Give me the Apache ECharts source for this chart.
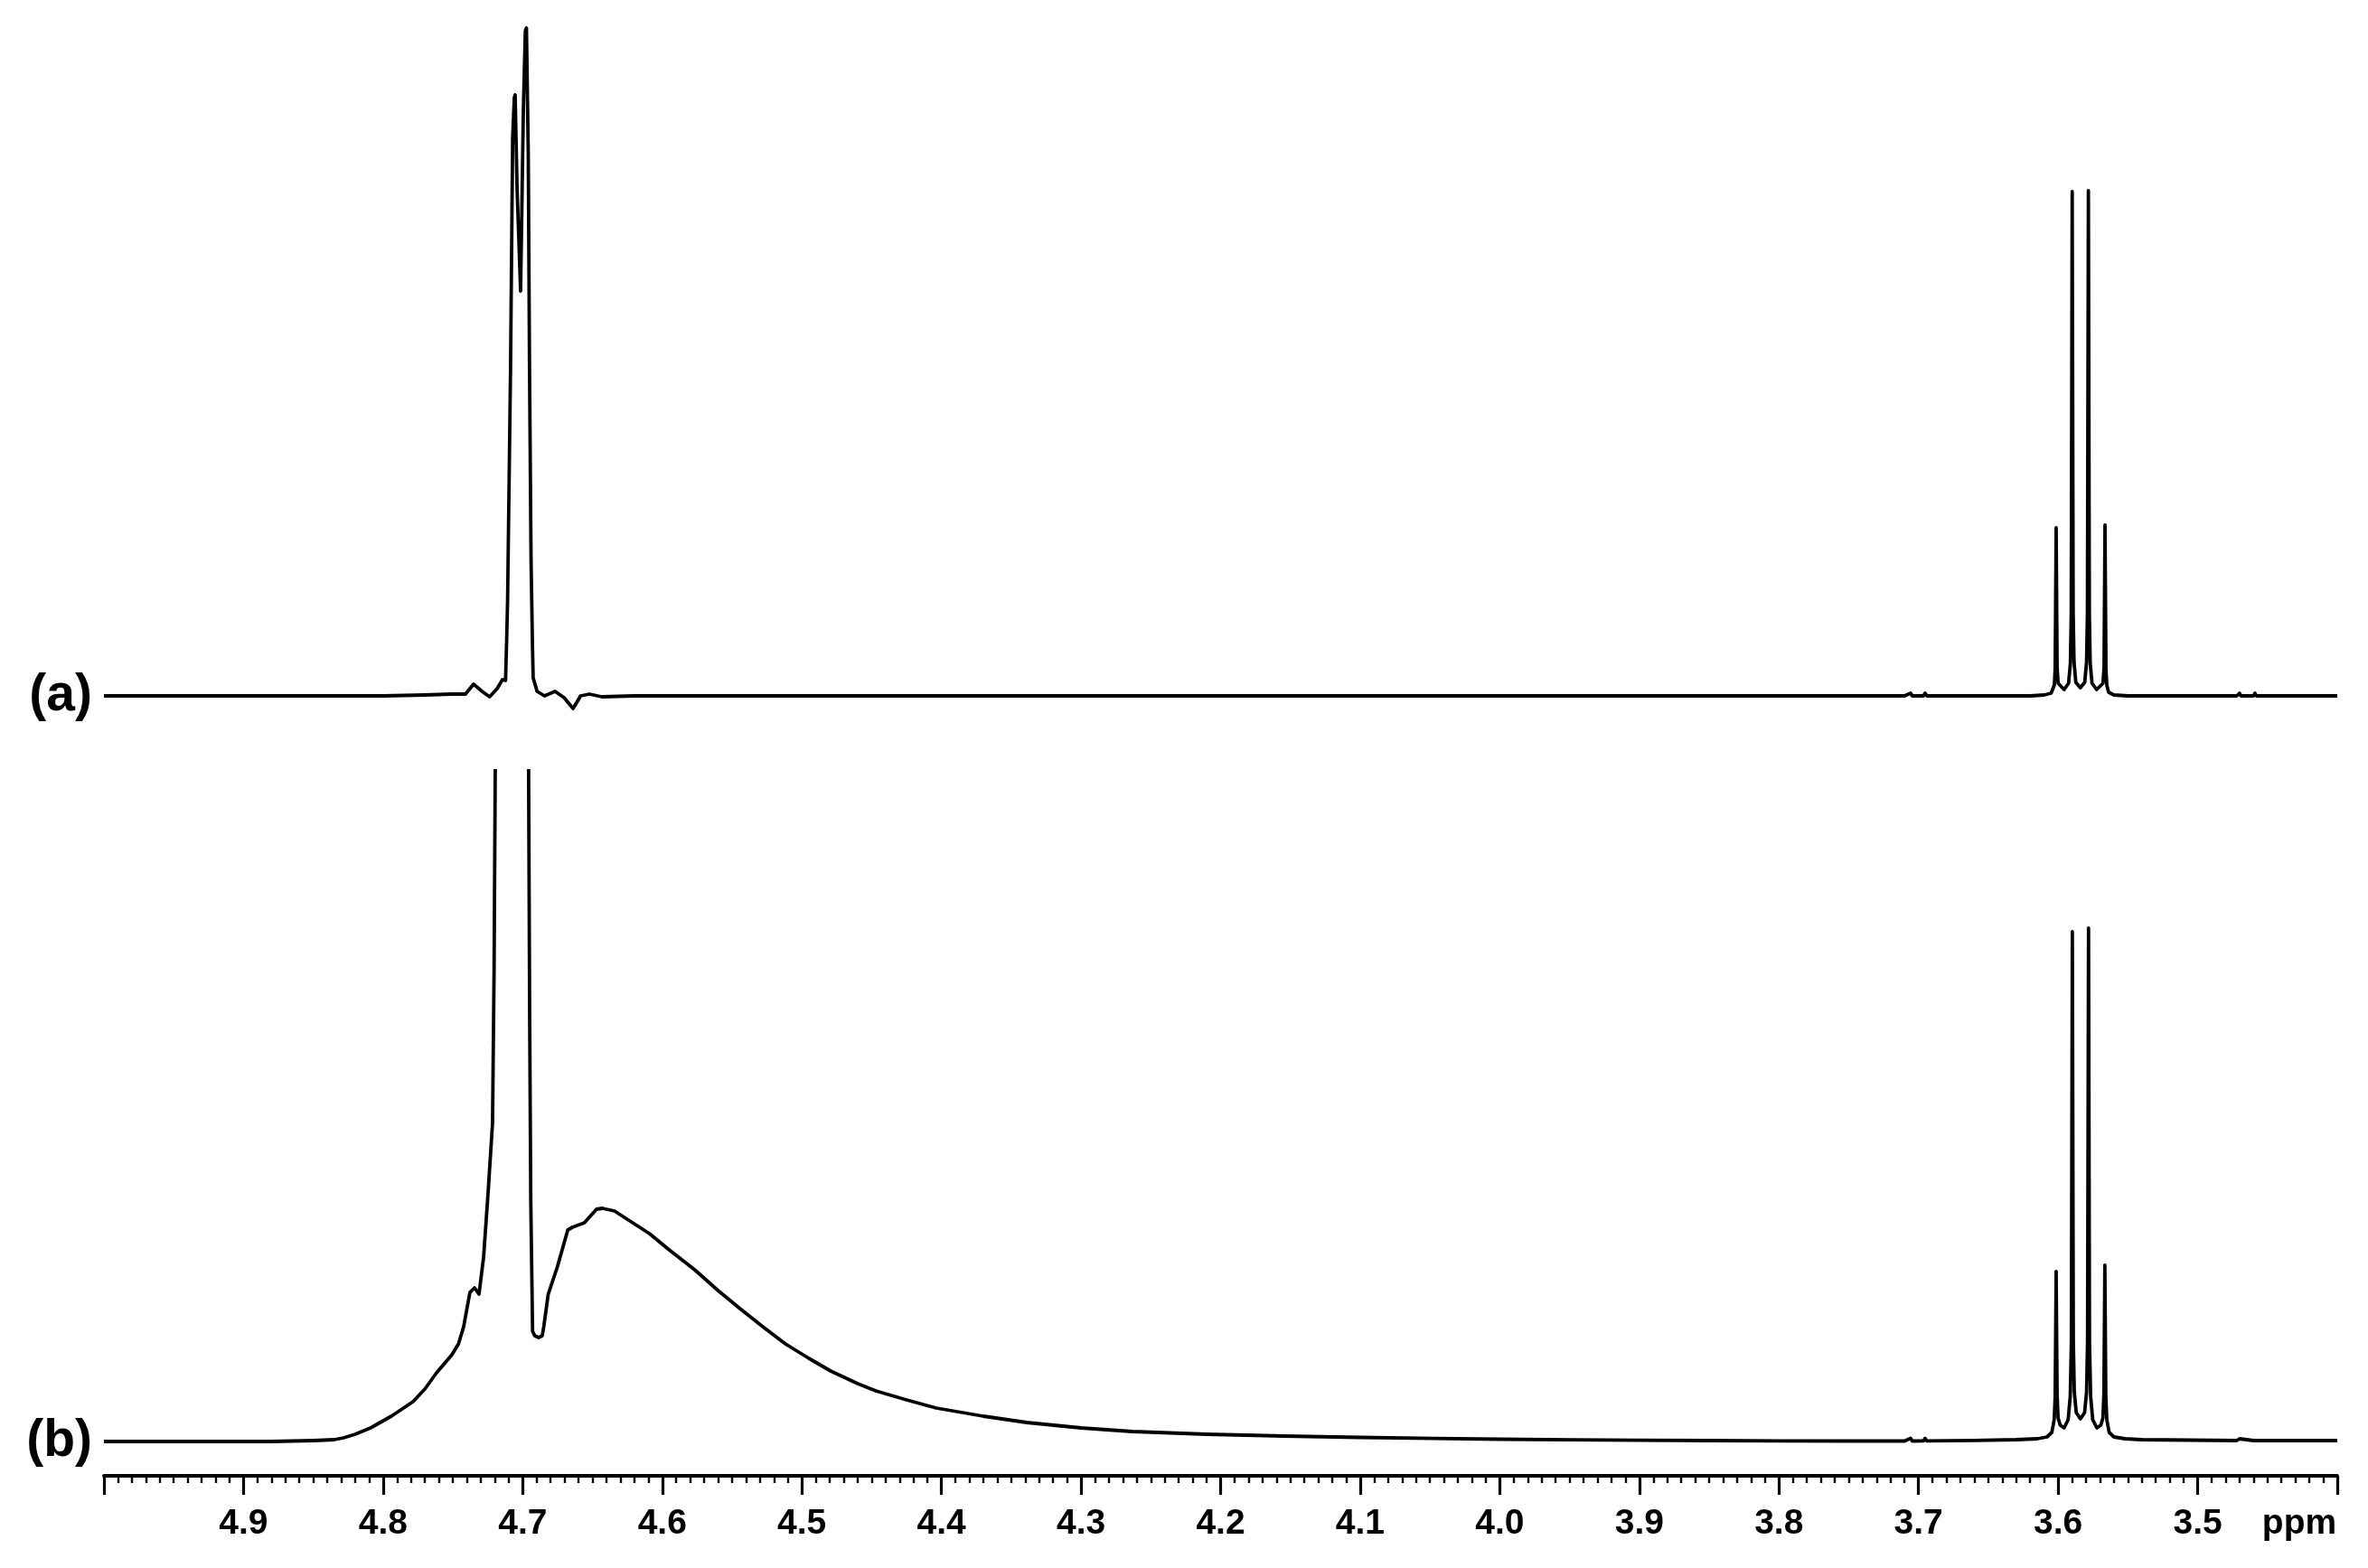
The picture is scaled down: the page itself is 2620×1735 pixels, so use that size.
<!DOCTYPE html>
<html>
<head>
<meta charset="utf-8">
<script src="https://cdn.jsdelivr.net/npm/echarts@6/dist/echarts.min.js"></script>
<style>
  html, body { margin: 0; padding: 0; background: #fff; }
  #chart { width: 2620px; height: 1735px; }
</style>
</head>
<body>
<div id="chart"></div>
<script>
// ---------- data (chemical shift in ppm, intensity in arbitrary units) ----------
const panelLabels = ['(a)', '(b)'];
const axisUnit = 'ppm';
const tickLabels = ['4.9', '4.8', '4.7', '4.6', '4.5', '4.4', '4.3', '4.2', '4.1', '4.0', '3.9', '3.8', '3.7', '3.6', '3.5'];

// spectrum (a)
const specA = [
  [5.000, 0], [4.900, 0], [4.800, 0], [4.770, 1], [4.7507, 2], [4.7410, 2],
  [4.7352, 13], [4.7291, 5], [4.7237, -1], [4.7183, 8], [4.7145, 18], [4.7123, 17],
  [4.7115, 60], [4.7108, 107], [4.7087, 362], [4.7072, 617], [4.7060, 662], [4.7054, 665],
  [4.7040, 560], [4.7015, 448], [4.6995, 650], [4.6981, 736], [4.6973, 739], [4.6960, 600],
  [4.6951, 362], [4.6940, 150], [4.6930, 56], [4.6925, 20], [4.6897, 5],
  [4.6844, 0], [4.6768, 5], [4.6703, -2], [4.6639, -14], [4.6585, 0],
  [4.6522, 2], [4.6433, -1], [4.6200, 0], [4.5000, 0], [4.3000, 0], [4.1000, 0],
  [3.9000, 0], [3.7100, 0], [3.7057, 3], [3.7045, 0], [3.6965, 0], [3.6953, 3],
  [3.6940, 0], [3.6200, 0], [3.6100, 1], [3.6050, 3],
  [3.6040, 4], [3.6027, 12], [3.6021, 30], [3.6014, 186], [3.6007, 32], [3.6000, 14],
  [3.5957, 7],
  [3.5925, 14], [3.5912, 36], [3.5906, 90], [3.5899, 558], [3.5892, 92], [3.5886, 38], [3.5873, 15],
  [3.5841, 9],
  [3.5809, 15], [3.5796, 38], [3.5790, 92], [3.5783, 559], [3.5776, 90], [3.5770, 36], [3.5757, 14],
  [3.5724, 7],
  [3.5678, 14], [3.5671, 32], [3.5664, 189], [3.5657, 30], [3.5651, 12], [3.5638, 4],
  [3.5600, 1], [3.5500, 0], [3.4720, 0], [3.4700, 3], [3.4690, 0], [3.4600, 0],
  [3.4590, 3], [3.4580, 0], [3.4530, 0], [3.4520, 2], [3.4510, 0], [3.4000, 0]
];

// spectrum (b)
const specB = [
  [5.000, 0], [4.950, 0], [4.900, 0], [4.880, 0], [4.850, 1], [4.835, 2],
  [4.8284, 4], [4.8200, 8], [4.8090, 15], [4.7941, 28], [4.7786, 44], [4.7701, 58],
  [4.7617, 76], [4.7507, 96], [4.7460, 108], [4.7423, 127], [4.7378, 165],
  [4.7345, 170], [4.7313, 163], [4.7280, 204], [4.7248, 275], [4.7216, 352],
  [4.7205, 520], [4.7196, 760], [4.7170, 1400], [4.7120, 2500], [4.7080, 2800],
  [4.7020, 2600], [4.6980, 1600], [4.6962, 900], [4.6950, 469], [4.6942, 265],
  [4.6929, 122], [4.6914, 117], [4.6886, 115], [4.6860, 117], [4.6849, 127],
  [4.6817, 163], [4.6752, 193], [4.6677, 234], [4.6644, 237], [4.6558, 242],
  [4.6471, 257], [4.6428, 258], [4.6342, 255], [4.6212, 242], [4.6092, 230],
  [4.5950, 212], [4.5768, 190], [4.5600, 167], [4.5443, 147], [4.5280, 127],
  [4.5118, 108], [4.4950, 92], [4.4794, 78], [4.4600, 64], [4.4470, 56],
  [4.4250, 46], [4.4037, 37], [4.3700, 28], [4.3389, 21], [4.3000, 15],
  [4.2632, 11], [4.2100, 8], [4.1550, 6], [4.1000, 4.5], [4.0469, 3.3], [4.0000, 2.5],
  [3.9500, 1.8], [3.9000, 1.3], [3.8500, 1], [3.8000, 0.7], [3.7500, 0.5],
  [3.7100, 0.5], [3.7057, 3.5], [3.7045, 0.5], [3.6965, 0.6], [3.6953, 3.5],
  [3.6940, 0.7], [3.6600, 1.2], [3.6300, 2], [3.6150, 3], [3.6080, 5],
  [3.6045, 10], [3.6028, 24], [3.6021, 50], [3.6014, 188], [3.6007, 52], [3.6000, 26], [3.5985, 18],
  [3.5957, 15],
  [3.5928, 24], [3.5913, 50], [3.5905, 110], [3.5898, 564], [3.5891, 112], [3.5884, 55], [3.5870, 32],
  [3.5840, 25],
  [3.5810, 32], [3.5796, 55], [3.5789, 112], [3.5782, 568], [3.5775, 110], [3.5767, 50], [3.5752, 24],
  [3.5722, 15],
  [3.5694, 18], [3.5679, 26], [3.5672, 52], [3.5665, 195], [3.5658, 50], [3.5651, 24], [3.5634, 10],
  [3.5600, 5], [3.5520, 3], [3.5400, 2], [3.4720, 1], [3.4700, 3], [3.4690, 1],
  [3.4600, 1], [3.4590, 3], [3.4580, 1], [3.4530, 1], [3.4520, 2], [3.4510, 1], [3.4000, 1]
];

// ---------- chart ----------
const FONT = '"Liberation Sans", Arial, Helvetica, sans-serif';
const chart = echarts.init(document.getElementById('chart'), null, { renderer: 'canvas' });

const lineStyle = { color: '#000', width: 3.8, join: 'round' };

const option = {
  backgroundColor: '#ffffff',
  animation: false,
  grid: [
    { left: 115, right: 34, top: 10, height: 780 },
    { left: 115, right: 34, top: 853, height: 780 }
  ],
  xAxis: [
    { gridIndex: 0, type: 'value', inverse: true, min: 3.4, max: 5.0, interval: 0.1, show: false },
    {
      gridIndex: 1, type: 'value', inverse: true, min: 3.4, max: 5.0, interval: 0.1,
      splitLine: { show: false },
      axisLine: { show: true, onZero: false, lineStyle: { color: '#000', width: 3.8 } },
      axisTick: { show: true, inside: false, length: 21, lineStyle: { color: '#000', width: 3.2 } },
      minorTick: { show: true, splitNumber: 10, length: 8, lineStyle: { color: '#000', width: 2.4 } },
      axisLabel: {
        show: true, margin: 34, color: '#000', fontFamily: FONT, fontSize: 39, fontWeight: 'bold',
        formatter: function (v) {
          if (Math.abs(v - 3.4) < 1e-6) return '{p|' + axisUnit + '}';
          const s = v.toFixed(1);
          return tickLabels.indexOf(s) >= 0 ? s : '';
        },
        rich: {
          p: { fontFamily: FONT, fontSize: 39, fontWeight: 'bold', color: '#000', padding: [0, 84, 0, 0] }
        }
      }
    }
  ],
  yAxis: [
    {
      gridIndex: 0, type: 'value', min: -20, max: 760, interval: 20,
      axisLine: { show: false }, axisTick: { show: false }, splitLine: { show: false },
      axisLabel: {
        show: true, margin: 13, color: '#000', fontFamily: FONT, fontSize: 57, fontWeight: 'bold',
        padding: [0, 0, 14, 0],
        formatter: function (v) { return Math.abs(v) < 1e-6 ? panelLabels[0] : ''; }
      }
    },
    {
      gridIndex: 1, type: 'value', min: -38, max: 742, interval: 38,
      axisLine: { show: false }, axisTick: { show: false }, splitLine: { show: false },
      axisLabel: {
        show: true, margin: 13, color: '#000', fontFamily: FONT, fontSize: 57, fontWeight: 'bold',
        padding: [0, 0, 6, 0],
        formatter: function (v) { return Math.abs(v) < 1e-6 ? panelLabels[1] : ''; }
      }
    }
  ],
  series: [
    { type: 'line', xAxisIndex: 0, yAxisIndex: 0, data: specA, showSymbol: false, symbol: 'none',
      clip: true, lineStyle: lineStyle, silent: true },
    { type: 'line', xAxisIndex: 1, yAxisIndex: 1, data: specB, showSymbol: false, symbol: 'none',
      clip: true, lineStyle: lineStyle, silent: true }
  ]
};
chart.setOption(option);
</script>
</body>
</html>
